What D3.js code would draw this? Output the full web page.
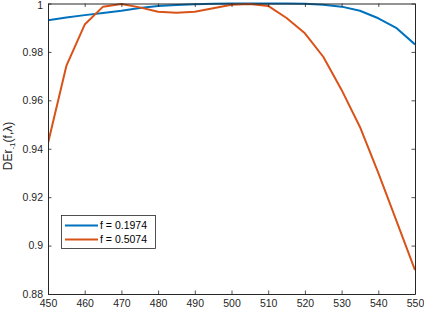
<!DOCTYPE html>
<html><head><meta charset="utf-8">
<script src="https://cdn.jsdelivr.net/npm/d3@7"></script>
<style>body{margin:0;background:#fff;} text{font-family:"Liberation Sans",Arial,sans-serif;}</style>
</head><body>
<script>
const lambda = [450,455,460,465,470,475,480,485,490,495,500,505,510,515,520,525,530,535,540,545,550];
const f1974 = [0.9931,0.9942,0.9952,0.9961,0.9970,0.9981,0.9990,0.9994,0.9997,0.9999,1.0,1.0,1.0,1.0,0.9999,0.9995,0.9987,0.9970,0.9939,0.9898,0.9831];
const f5074 = [0.9423,0.9742,0.9913,0.9987,0.9998,0.9984,0.9966,0.9962,0.9966,0.9980,0.9995,0.9998,0.9990,0.9940,0.9877,0.9780,0.9643,0.9490,0.9300,0.9100,0.8899];
const xTicks = [450,460,470,480,490,500,510,520,530,540,550];
const yTicks = [0.88,0.9,0.92,0.94,0.96,0.98,1];
const yTickLabels = ["0.88","0.9","0.92","0.94","0.96","0.98","1"];
const seriesNames = ["f = 0.1974","f = 0.5074"];
const colors = ["#0072BD","#D95319"];

const W=424,H=311, L=48, R=415, T=3.5, B=294;
const svg=d3.select("body").append("svg").attr("width",W).attr("height",H);
const x=d3.scaleLinear().domain([450,550]).range([L,R]);
const y=d3.scaleLinear().domain([0.88,1]).range([B,T]);
const ax="#262626";

svg.append("clipPath").attr("id","c").append("rect").attr("x",L).attr("y",T-2).attr("width",R-L).attr("height",B-T+2);
const g=svg.append("g").attr("clip-path","url(#c)");
const line=d3.line().x((d,i)=>x(lambda[i])).y(d=>y(d));
[f1974,f5074].forEach((s,k)=>{
  g.append("path").datum(s).attr("d",line).attr("fill","none").attr("stroke",colors[k]).attr("stroke-width",2).attr("stroke-linejoin","round");
});

// axes
const xb=svg.append("g").attr("transform",`translate(0,${B})`).call(d3.axisBottom(x).tickValues(xTicks).tickSizeInner(-3.5).tickSizeOuter(0).tickPadding(6));
const xt=svg.append("g").attr("transform",`translate(0,${T})`).call(d3.axisTop(x).tickValues(xTicks).tickSizeInner(-3.5).tickSizeOuter(0).tickFormat(""));
const yl=svg.append("g").attr("transform",`translate(${L},0)`).call(d3.axisLeft(y).tickValues(yTicks).tickSizeInner(-3.5).tickSizeOuter(0).tickPadding(5).tickFormat((d,i)=>yTickLabels[i]));
const yr=svg.append("g").attr("transform",`translate(${R},0)`).call(d3.axisRight(y).tickValues(yTicks).tickSizeInner(-3.5).tickSizeOuter(0).tickFormat(""));
[xb,xt,yl,yr].forEach(a=>{
  a.selectAll("path").attr("stroke",ax).attr("stroke-width",1);
  a.selectAll("line").attr("stroke",ax).attr("stroke-width",0.8);
  a.selectAll("text").attr("fill",ax).style("font-size","10.5px").style("font-family","Liberation Sans, Arial, sans-serif");
});
yl.selectAll(".tick text").filter(d=>d===1).attr("dy","0.5em");

// y label
const lab=svg.append("text").attr("transform","translate(12,146) rotate(-90)").attr("text-anchor","middle").attr("fill",ax).style("font-size","12px");
lab.append("tspan").text("DEr");
lab.append("tspan").attr("dy",3).style("font-size","8px").text("-1");
lab.append("tspan").attr("dy",-3).text("(f,λ)");

// legend
const lg=svg.append("g");
lg.append("rect").attr("x",61.5).attr("y",215.5).attr("width",94).attr("height",33).attr("fill","#fff").attr("stroke",ax).attr("stroke-width",0.8);
seriesNames.forEach((n,i)=>{
  const yy=225.5+i*14;
  lg.append("line").attr("x1",65).attr("x2",98).attr("y1",yy).attr("y2",yy).attr("stroke",colors[i]).attr("stroke-width",2);
  lg.append("text").attr("x",100).attr("y",yy+3.8).attr("fill","#000").style("font-size","10.5px").text(n);
});
</script>
</body></html>
